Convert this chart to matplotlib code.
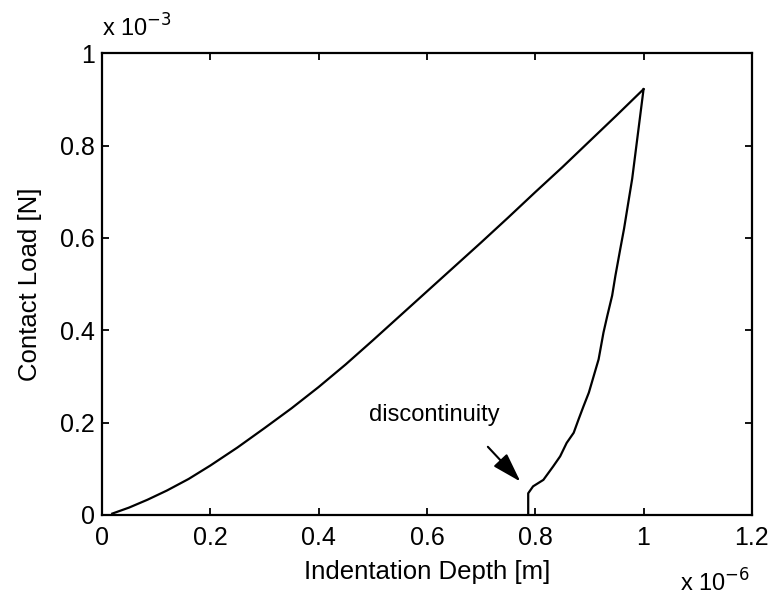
import matplotlib
matplotlib.use("Agg")
import matplotlib.pyplot as plt
from matplotlib.ticker import FuncFormatter

# loading branch (depth in 1e-6 m, load in 1e-3 N)
load_depth = [0.019, 0.05, 0.084, 0.12, 0.16, 0.2, 0.25, 0.3, 0.35, 0.4, 0.45,
              0.5, 0.55, 0.6, 0.65, 0.7, 0.75, 0.8, 0.85, 0.9, 0.95, 1.0]
load_force = [0.003, 0.016, 0.033, 0.053, 0.078, 0.107, 0.146, 0.188, 0.231,
              0.277, 0.326, 0.378, 0.431, 0.484, 0.537, 0.590, 0.644, 0.699,
              0.753, 0.809, 0.865, 0.922]

# unloading branch, ends with the drop at the discontinuity
unload_depth = [1.0, 0.979, 0.973, 0.964, 0.957, 0.948, 0.942, 0.933, 0.926,
                0.917, 0.908, 0.899, 0.889, 0.880, 0.871, 0.858, 0.846, 0.833,
                0.815, 0.796, 0.787, 0.787]
unload_force = [0.922, 0.728, 0.685, 0.620, 0.576, 0.518, 0.475, 0.431, 0.395,
                0.337, 0.301, 0.265, 0.235, 0.207, 0.178, 0.156, 0.127, 0.105,
                0.076, 0.062, 0.047, 0.0]

xticks = [0, 0.2, 0.4, 0.6, 0.8, 1.0, 1.2]
yticks = [0, 0.2, 0.4, 0.6, 0.8, 1.0]


def main():
    plt.rcParams['font.family'] = ['Liberation Sans', 'DejaVu Sans']
    fig = plt.figure(figsize=(7.68, 5.97), dpi=100)
    ax = fig.add_axes([0.1328, 0.1374, 0.8462, 0.7736])

    ax.plot(load_depth, load_force, color='black', lw=1.6)
    ax.plot(unload_depth, unload_force, color='black', lw=1.6)

    ax.set_xlim(0, 1.2)
    ax.set_ylim(0, 1.0)
    ax.set_xticks(xticks)
    ax.set_yticks(yticks)
    fmt = FuncFormatter(lambda v, p: '%g' % round(v, 3))
    ax.xaxis.set_major_formatter(fmt)
    ax.yaxis.set_major_formatter(fmt)
    ax.tick_params(direction='in', length=5, width=1.3, labelsize=18,
                   top=True, right=True)
    ax.tick_params(axis='x', pad=8)
    ax.tick_params(axis='y', pad=5)
    for s in ax.spines.values():
        s.set_linewidth(1.6)

    ax.set_xlabel('Indentation Depth [m]', fontsize=18.5, labelpad=7)
    ax.set_ylabel('Contact Load [N]', fontsize=18.5, labelpad=13)

    # multiplier labels like matlab
    ax.text(0.0, 1.025, r'x 10$^{-3}$', transform=ax.transAxes, fontsize=17,
            ha='left', va='bottom')
    ax.text(0.997, -0.167, r'x 10$^{-6}$', transform=ax.transAxes, fontsize=17,
            ha='right', va='baseline')

    ax.text(0.493, 0.217, 'discontinuity', fontsize=17, ha='left', va='center')
    ax.annotate('', xy=(0.776, 0.068), xytext=(0.709, 0.152),
                arrowprops=dict(arrowstyle='-|>,head_length=0.9,head_width=0.28',
                                color='black', lw=1.5, mutation_scale=20))
    plt.savefig('out.png', dpi=100)


if __name__ == "__main__":
    main()
